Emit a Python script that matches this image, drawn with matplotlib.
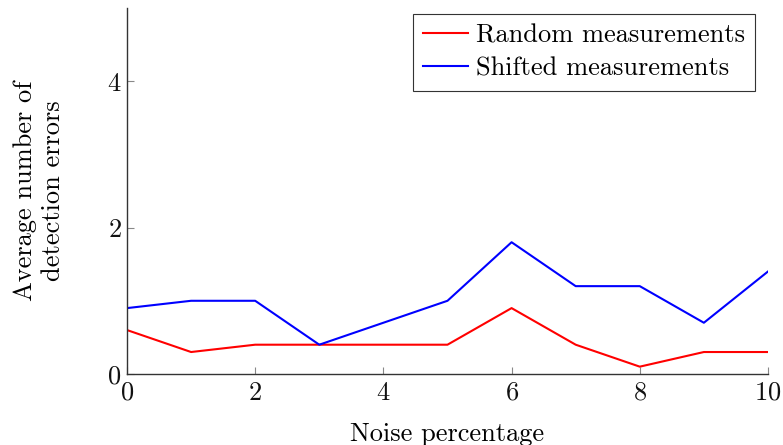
import matplotlib
matplotlib.use("Agg")
import matplotlib.pyplot as plt

plt.rcParams['font.family'] = ['cmr10', 'DejaVu Serif']
plt.rcParams['axes.formatter.use_mathtext'] = True

noise = [0, 1, 2, 3, 4, 5, 6, 7, 8, 9, 10]
random_meas = [0.6, 0.3, 0.4, 0.4, 0.4, 0.4, 0.9, 0.4, 0.1, 0.3, 0.3]
shifted_meas = [0.9, 1.0, 1.0, 0.4, 0.7, 1.0, 1.8, 1.2, 1.2, 0.7, 1.4]
xticks = [0, 2, 4, 6, 8, 10]
yticks = [0, 2, 4]

fig = plt.figure(figsize=(7.83, 4.45), dpi=100)
ax = fig.add_axes([0.1622, 0.1596, 0.8186, 0.8224])

ax.plot(noise, random_meas, color='#ff0000', lw=1.5, label='Random measurements')
ax.plot(noise, shifted_meas, color='#0000ff', lw=1.5, label='Shifted measurements')

ax.set_xlim(0, 10)
ax.set_ylim(0, 5)
ax.set_xticks(xticks)
ax.set_yticks(yticks)
ax.spines['top'].set_visible(False)
ax.spines['right'].set_visible(False)
for s in ['left', 'bottom']:
    ax.spines[s].set_color('#333333')
    ax.spines[s].set_linewidth(1.0)
ax.tick_params(direction='in', length=5, width=0.8, color='#888888',
               labelsize=19, pad=5, labelcolor='#111111')
ax.tick_params(axis='y', pad=4)

ax.set_xlabel('Noise percentage', fontsize=19, labelpad=13)
ax.set_ylabel('Average number of\ndetection errors', fontsize=19, labelpad=30,
              linespacing=1.25)

leg = ax.legend(loc='upper right', fontsize=19, frameon=True, fancybox=False,
                edgecolor='#333333', framealpha=1, handlelength=1.7,
                borderpad=0.38, labelspacing=0.35, handletextpad=0.3,
                borderaxespad=0, bbox_to_anchor=(0.98, 0.984))
leg.get_frame().set_linewidth(0.8)

fig.savefig('out.png', dpi=100)
